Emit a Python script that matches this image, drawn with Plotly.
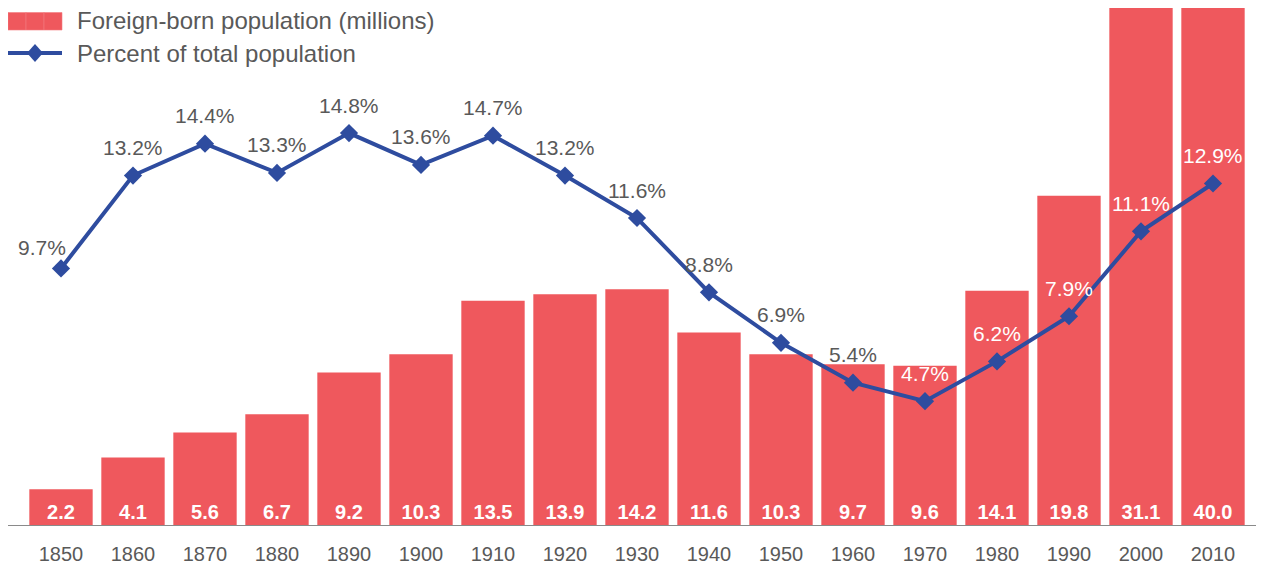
import plotly.graph_objects as go

# ---- data ----
years = [1850, 1860, 1870, 1880, 1890, 1900, 1910, 1920, 1930,
         1940, 1950, 1960, 1970, 1980, 1990, 2000, 2010]
foreign_born = [2.2, 4.1, 5.6, 6.7, 9.2, 10.3, 13.5, 13.9, 14.2,
                11.6, 10.3, 9.7, 9.6, 14.1, 19.8, 31.1, 40.0]
percent_total = [9.7, 13.2, 14.4, 13.3, 14.8, 13.6, 14.7, 13.2, 11.6,
                 8.8, 6.9, 5.4, 4.7, 6.2, 7.9, 11.1, 12.9]
tick_labels = [str(y) for y in years]
bar_name = "Foreign-born population (millions)"
line_name = "Percent of total population"

# ---- style ----
RED = "#EF585D"
BLUE = "#2E4C9F"
GRAY = "#595959"
FONT = "Helvetica Neue, Liberation Sans, Arial, sans-serif"
W, H = 1264, 565
OFF = 8  # page body margin offset (screen = figure + OFF)
ML, MR, MT, MB = 25 - OFF, 15 + OFF, 0, 565 - (526 - OFF)
PLOT_W = W - ML - MR
PLOT_H = H - MT - MB
BAR_MAX = PLOT_H / 16.68
PCT_MAX = PLOT_H / 26.55
LABEL_SHIFT = 28
label_overrides = {1850: dict(xshift=-19, yshift=21)}

fig = go.Figure()
fig.add_trace(go.Bar(
    x=years, y=foreign_born, name=bar_name,
    marker=dict(color=RED, line=dict(width=0)),
    text=[f"{v:.1f}" for v in foreign_born],
    textposition="inside", insidetextanchor="start",
    textfont=dict(family=FONT, size=20, color="white", weight="bold"),
    constraintext="none",
    showlegend=False, hoverinfo="skip",
))
fig.add_trace(go.Scatter(
    x=years, y=percent_total, name=line_name, yaxis="y2",
    mode="lines+markers",
    line=dict(color=BLUE, width=4),
    marker=dict(symbol="diamond", size=14, color=BLUE),
    showlegend=False, hoverinfo="skip", cliponaxis=False,
))

# percent labels
annotations = []
px_per_bar = PLOT_H / BAR_MAX
px_per_pct = PLOT_H / PCT_MAX
for yr, p, b in zip(years, percent_total, foreign_born):
    ov = label_overrides.get(yr, {})
    ys = ov.get("yshift", LABEL_SHIFT)
    label_px = p * px_per_pct + ys
    col = "white" if label_px < b * px_per_bar - 4 else GRAY
    annotations.append(dict(
        x=yr, y=p, xref="x", yref="y2", text=f"{p}%", showarrow=False,
        xshift=ov.get("xshift", 0), yshift=ys,
        font=dict(family=FONT, size=21, color=col),
    ))

# legend (drawn manually) -- positions given in screen pixels
def px_x(v):
    return (v - OFF - ML) / PLOT_W

def px_y(v):
    return 1 - (v - OFF - MT) / PLOT_H

shapes = []
for i in range(3):
    shapes.append(dict(type="rect", xref="paper", yref="paper",
                       x0=px_x(8 + 18 * i), x1=px_x(8 + 18 * (i + 1)),
                       y0=px_y(30), y1=px_y(12.5),
                       fillcolor=RED, line=dict(color="#F37C80", width=0.6)))
shapes.append(dict(type="line", xref="paper", yref="paper",
                   x0=px_x(8), x1=px_x(62), y0=px_y(53), y1=px_y(53),
                   line=dict(color=BLUE, width=4)))
shapes.append(dict(type="path", xref="paper", yref="paper",
                   path=f"M {px_x(35)} {px_y(44)} L {px_x(43)} {px_y(53)} "
                        f"L {px_x(35)} {px_y(62)} L {px_x(27)} {px_y(53)} Z",
                   fillcolor=BLUE, line=dict(color=BLUE, width=0)))
# baseline
shapes.append(dict(type="line", xref="paper", yref="y",
                   x0=px_x(8), x1=px_x(1272), y0=0, y1=0,
                   line=dict(color="#8A8A8A", width=2), layer="above"))

annotations.append(dict(xref="paper", yref="paper", x=px_x(75), y=px_y(21),
                        xanchor="left", yanchor="middle", showarrow=False,
                        text=bar_name, font=dict(family=FONT, size=24, color=GRAY)))
annotations.append(dict(xref="paper", yref="paper", x=px_x(75), y=px_y(53),
                        xanchor="left", yanchor="middle", showarrow=False,
                        text=line_name, font=dict(family=FONT, size=24, color=GRAY)))

fig.update_layout(
    width=W, height=H,
    margin=dict(l=ML, r=MR, t=MT, b=MB, autoexpand=False),
    paper_bgcolor="white", plot_bgcolor="white",
    bargap=0.12,
    xaxis=dict(range=[1845, 2015], tickvals=years, ticktext=tick_labels,
               showgrid=False, zeroline=False, showline=False,
               ticks="", tickfont=dict(family=FONT, size=20, color=GRAY),
               ticklabelstandoff=14, automargin=False),
    yaxis=dict(range=[0, BAR_MAX], visible=False, fixedrange=True),
    yaxis2=dict(range=[0, PCT_MAX], overlaying="y", visible=False),
    shapes=shapes, annotations=annotations,
    showlegend=False,
)

fig.write_html("out.html")
